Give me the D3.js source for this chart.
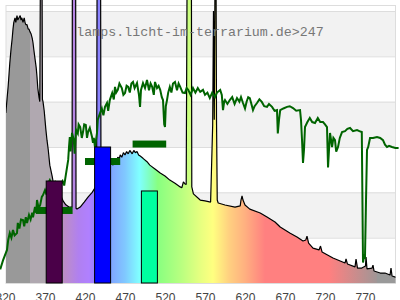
<!DOCTYPE html>
<html>
<head>
<meta charset="utf-8">
<script src="https://cdn.jsdelivr.net/npm/d3@7"></script>
<style>
    body { margin: 0; background: #fff; }
    svg { display: block; }
</style>
</head>
<body>
<svg id="chart" width="400" height="300"></svg>
<script>
// Lamp spectrum: wavelength (nm) and relative intensity
const lampNm = [
    321, 322.5, 324, 325, 326, 327.5, 329, 330, 331, 332.5, 333.5, 335, 336, 337.5, 339, 340, 341, 342.5, 344, 345,
    346, 347.5, 349, 350, 351, 352.5, 354, 355, 356, 357.5, 359, 360, 361, 362.5, 363.5, 364.2, 366.3, 366.8, 367.5, 369,
    370, 371, 372.5, 374, 376, 379, 380, 384, 389, 393, 396, 400, 403.8, 404.2, 408.3, 408.8, 410, 414, 419, 424,
    429, 432.5, 434.5, 435.1, 439.5, 440, 441, 446, 452, 455, 457.5, 459, 461, 463, 464, 466, 468, 470, 472, 474,
    476, 479, 481, 483, 485, 487, 489, 492.5, 497.5, 501, 507.5, 514, 520, 526, 532.5, 539, 541, 543, 545, 546.5,
    547.6, 553, 553.5, 555.5, 564, 570, 577, 579.6, 580.6, 581.6, 582.5, 583.8, 584.4, 585.3, 586.5, 595, 607.5, 614, 615, 616.3,
    617.5, 620, 626, 639, 647.5, 657.5, 664, 676, 685, 692.5, 696, 697.5, 699.5, 705, 712.5, 714.4, 716.3, 730, 739, 745,
    746.3, 748, 757.5, 758.8, 760.6, 766, 770.6, 771.3, 772.5, 778.8, 780, 781.3, 789, 795, 801.3, 802.5, 803.8, 808, 810
];
const lampVal = [
    75, 81, 87, 92, 97, 103, 108, 112, 115, 117, 115, 118, 116, 117, 118, 116, 117, 115, 117, 115,
    114, 114, 112, 112, 111, 110, 108, 106, 103, 99, 95, 91, 86, 82, 80, 135, 135, 81, 80, 76,
    72, 68, 63, 59, 52, 47, 45, 42, 39, 36, 34.5, 33.5, 33.5, 135, 135, 33, 32.6, 33.5, 35.7, 38,
    40, 42, 43, 135, 135, 44, 45, 49, 53, 52, 54.5, 53.5, 55.5, 55, 56.5, 55.5, 57.5, 56.5, 58, 57,
    58.5, 57, 58.5, 57.5, 58, 56.5, 56, 55, 53.5, 52, 50.3, 48.5, 47.2, 45.4, 44, 42.4, 42, 44.6, 43.7, 43.5,
    135, 135, 42.4, 39.3, 36.6, 36.2, 35.7, 69.7, 120, 72, 135, 135, 72, 36.6, 35.3, 34.4, 33.5, 34, 36.6, 38.4,
    36.6, 34.4, 32.6, 30.9, 29.1, 26.9, 24.7, 22.1, 20.3, 18.5, 19, 20.7, 17.6, 15.4, 14.6, 16.3, 13.7, 11, 9.7, 8.8,
    10.6, 8.4, 7.1, 10.6, 6.6, 6.6, 7.5, 11.5, 6.2, 6.6, 7.9, 5.3, 4.4, 4.4, 3.5, 6.6, 3.1, 2.6, 2.5
];

// Daylight reference curve
const dayNm = [
    314, 317.5, 322.5, 324, 326, 328, 330, 332, 335, 336, 338, 340, 342.5, 344, 346, 347.5, 350, 352, 354, 355,
    357.5, 359, 360, 362, 364, 366, 367.5, 370, 372, 374, 376, 379, 382.5, 386, 389, 392, 394, 396, 399, 400,
    401, 402, 403.8, 406, 407, 408.8, 411, 412, 414, 416, 417.5, 419, 421, 422.5, 423.8, 426, 428.8, 430, 431, 432.5,
    435, 436, 438.8, 441, 443, 445, 447.5, 449, 451, 454, 456, 457.5, 459, 461, 463, 466, 468, 470, 472, 474,
    476, 478, 480, 482, 485, 487.5, 488.8, 490, 492.5, 495, 497.5, 500, 502, 504, 506, 507.5, 510, 512, 514, 516,
    517.5, 519, 520, 521, 522.5, 524, 526, 528, 530, 532.5, 535, 537, 539, 542, 545, 547, 549, 552, 555, 558,
    561, 564, 567.5, 570, 573, 576, 579, 582.5, 585, 589, 591, 592.5, 594, 595, 598, 601, 604, 607, 610, 613,
    615, 617.5, 620, 622, 624, 626, 628, 630, 632, 635, 638, 641, 644, 647.5, 650, 653.8, 657, 660, 661, 662.5,
    664, 668, 672.5, 676, 680, 684, 688.8, 690, 691.3, 692.5, 693.8, 695, 698, 701, 704, 707.5, 711, 714, 717.5, 720,
    722.5, 723.8, 725, 726.3, 728.8, 730.5, 732.5, 734, 736.3, 738.5, 741.3, 745, 748, 751.3, 755, 760, 763, 766, 767.5, 769,
    770, 771.3, 772.5, 774, 776.3, 780, 785, 789, 792.5, 795, 797.5, 800, 803.8, 808, 812
];
const dayVal = [
    6, 10, 14.6, 19, 22, 20, 23.4, 21, 22, 26.5, 24, 28, 27.8, 25, 29, 26.5, 30, 28, 31, 29,
    33.5, 31, 36.6, 33, 34.4, 38, 38.8, 41, 39, 44, 45.4, 43, 44.6, 42, 43.2, 45, 43, 47.6, 54.3, 60,
    64.4, 58, 66.2, 63.1, 57, 67.5, 66, 70, 68.8, 64, 66.6, 70, 69.7, 64, 66.6, 68.4, 64.4, 61.8, 64, 60,
    66.2, 72, 75, 77, 74, 77.7, 79.4, 76, 80.7, 83.8, 81, 86.5, 84, 85.2, 88, 86, 83, 83.8, 87, 86.5,
    84, 88, 88.7, 86, 88.2, 82.9, 77.7, 85.2, 88.2, 86, 89.6, 85, 88, 86.5, 83, 88.7, 86, 87, 85.2, 82,
    80.7, 70, 68.8, 78, 80.7, 84, 86.5, 84, 88, 88.7, 85, 88, 86.5, 84, 83.8, 86, 85.2, 83, 86, 84,
    86, 84.3, 85.2, 83, 84, 81.6, 84, 82, 84, 85.2, 83, 76.3, 80, 80.7, 79, 80.7, 82, 79, 81.6, 80,
    82, 79.4, 77, 80, 82, 81.6, 79, 76.3, 78, 79.4, 81, 79.9, 78, 77.7, 79, 77.7, 76, 76.3, 66, 72,
    76.3, 77, 77.7, 78, 77.2, 76, 76.3, 72, 63, 53, 59, 68.8, 71, 72.8, 71, 70.6, 72.8, 71, 71, 70,
    68.8, 51, 58.7, 66.2, 60, 64, 63, 58, 60, 64, 66.6, 67, 68, 68.4, 67, 67.5, 67, 66.6, 9, 12,
    11.5, 37, 58.7, 60, 64, 64, 64.4, 64, 63, 61, 60, 60.5, 60, 59.6, 59.6
];

// Sensor peaks: centre (nm), bar height, range level and half width (nm)
const peakNm = [381.5, 442, 500.5];
const peakVal = [45, 60, 40.6];
const peakColor = ['#4a0048', '#0000ff', '#00ffa0'];
const rangeVal = [32, 53.6, 61.3];
const rangeHalf = [23, 22, 21];

const xTicks = [320, 370, 420, 470, 520, 570, 620, 670, 720, 770];
const yTicks = [0, 20, 40, 60, 80, 100, 120];

// Colour of the light along the spectrum
const spectrumStops = [
    [320, '#999999'], [351, '#999999'], [351, '#b0a8b0'], [386, '#b0a8b0'], [395, '#bc8ac8'],
    [402, '#b888d8'], [412, '#b080f0'], [425, '#b080ff'], [436, '#8c80ff'], [452, '#80a4ff'],
    [470, '#80c8ff'], [488, '#80ffff'], [500, '#80ffc0'], [511, '#88ff80'], [540, '#b8ff80'],
    [565, '#e8ff80'], [580, '#ffff80'], [600, '#ffd080'], [620, '#ffb080'], [645, '#ff8080'],
    [725, '#ff8080'], [785, '#a09696'], [785, '#999999'], [810, '#999999']
];

const svg = d3.select('#chart');
const x = d3.scaleLinear().domain([320, 810]).range([5, 397]);
const y = d3.scaleLinear().domain([0, 120]).range([283, 11]);
const plotLeft = 6, plotRight = 395.5, plotTop = 5, plotBottom = 283;

// Background bands and grid
for (let i = 1; i + 1 < yTicks.length; i += 2) {
    svg.append('rect')
        .attr('x', plotLeft).attr('width', plotRight - plotLeft)
        .attr('y', y(yTicks[i + 1]))
        .attr('height', y(yTicks[i]) - y(yTicks[i + 1]))
        .attr('fill', '#f2f2f2');
}
svg.selectAll('line.grid').data(yTicks).enter().append('line')
    .attr('x1', plotLeft).attr('x2', plotRight)
    .attr('y1', (d) => y(d) + 0.5).attr('y2', (d) => y(d) + 0.5)
    .attr('stroke', '#dddddd');
svg.append('rect')
    .attr('x', plotLeft).attr('y', plotTop + 0.5)
    .attr('width', plotRight - plotLeft).attr('height', plotBottom - plotTop)
    .attr('fill', 'none').attr('stroke', '#dddddd');

// Gradient for the spectrum fill
const defs = svg.append('defs');
const grad = defs.append('linearGradient')
    .attr('id', 'spec')
    .attr('gradientUnits', 'userSpaceOnUse')
    .attr('x1', x(320)).attr('x2', x(810)).attr('y1', 0).attr('y2', 0);
spectrumStops.forEach(([nm, c]) => {
    grad.append('stop').attr('offset', (nm - 320) / 490).attr('stop-color', c);
});
defs.append('clipPath').attr('id', 'plot')
    .append('rect').attr('x', plotLeft).attr('y', -50)
    .attr('width', plotRight - plotLeft).attr('height', plotBottom + 50);

const lampData = lampNm.map((nm, i) => [nm, lampVal[i]]);
const dayData = dayNm.map((nm, i) => [nm, dayVal[i]]);

const spec = svg.append('g').attr('clip-path', 'url(#plot)');
spec.append('path')
    .datum(lampData)
    .attr('fill', 'url(#spec)')
    .attr('d', d3.area().x((d) => x(d[0])).y0(y(0)).y1((d) => y(d[1])));
spec.append('path')
    .datum(lampData)
    .attr('fill', 'none')
    .attr('stroke', '#000')
    .attr('stroke-width', 1.2)
    .attr('stroke-linejoin', 'bevel')
    .attr('d', d3.line().x((d) => x(d[0])).y((d) => y(d[1])));

// Daylight curve
svg.append('path')
    .datum(dayData)
    .attr('fill', 'none')
    .attr('stroke', '#006400')
    .attr('stroke-width', 2)
    .attr('d', d3.line().x((d) => x(d[0])).y((d) => y(d[1])));

// Range markers
svg.selectAll('rect.range').data(peakNm).enter().append('rect')
    .attr('x', (d, i) => x(d - rangeHalf[i]))
    .attr('width', (d, i) => x(d + rangeHalf[i]) - x(d - rangeHalf[i]))
    .attr('y', (d, i) => y(rangeVal[i]) - 3.5)
    .attr('height', 7)
    .attr('fill', '#006400');

// Peak bars
svg.selectAll('rect.peak').data(peakNm).enter().append('rect')
    .attr('x', (d) => x(d - 10))
    .attr('width', (d) => x(d + 10) - x(d - 10))
    .attr('y', (d, i) => y(peakVal[i]))
    .attr('height', (d, i) => y(0) - y(peakVal[i]))
    .attr('fill', (d, i) => peakColor[i])
    .attr('stroke', '#000')
    .attr('stroke-width', 1);

// X axis labels
const axis = svg.append('g')
    .attr('transform', `translate(0,${plotBottom})`)
    .call(d3.axisBottom(x).tickValues(xTicks).tickSize(0).tickPadding(10).tickFormat(d3.format('d')));
axis.select('.domain').remove();
axis.selectAll('text')
    .attr('fill', '#444')
    .style('font-family', '"Liberation Sans", Arial, sans-serif')
    .style('font-size', '12px');

// Watermark title
svg.append('text')
    .attr('x', 200).attr('y', 36)
    .attr('text-anchor', 'middle')
    .style('font-family', '"Liberation Mono", "DejaVu Sans Mono", monospace')
    .style('font-size', '13.3px')
    .attr('fill', '#777')
    .text('lamps.licht-im-terrarium.de>247');
</script>
</body>
</html>
